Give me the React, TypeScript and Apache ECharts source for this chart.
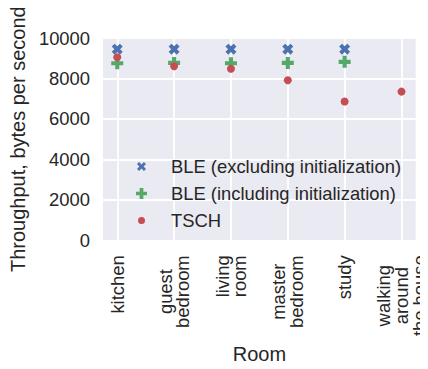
import React, { useEffect, useRef } from "react";
import * as echarts from "echarts";

const rooms = [
  "kitchen",
  "guest\nbedroom",
  "living\nroom",
  "master\nbedroom",
  "study",
  "walking\naround\nthe house",
];
const roomIndex = [0, 1, 2, 3, 4, 5];
const bleExcluding = [9450, 9450, 9450, 9450, 9450];
const bleIncluding = [8750, 8770, 8750, 8770, 8820];
const tsch = [9050, 8600, 8480, 7910, 6860, 7350];
const yTicks = [0, 2000, 4000, 6000, 8000, 10000];

const seriesNames = [
  "BLE (excluding initialization)",
  "BLE (including initialization)",
  "TSCH",
];
const colors = ["#4C72B0", "#55A868", "#C44E52"];

const X_PATH =
  "path://M2.6,0 L5,2.4 L7.4,0 L10,2.6 L7.6,5 L10,7.4 L7.4,10 L5,7.6 L2.6,10 L0,7.4 L2.4,5 L0,2.6 Z";
const PLUS_PATH =
  "path://M3.3,0 L6.7,0 L6.7,3.3 L10,3.3 L10,6.7 L6.7,6.7 L6.7,10 L3.3,10 L3.3,6.7 L0,6.7 L0,3.3 L3.3,3.3 Z";
const X_LEGEND =
  "path://M0,0 M11,11 M3.1,1 L5.5,3.4 L7.9,1 L10,3.1 L7.6,5.5 L10,7.9 L7.9,10 L5.5,7.6 L3.1,10 L1,7.9 L3.4,5.5 L1,3.1 Z";
const CIRCLE_LEGEND =
  "path://M0,0 M11,11 M2,5.5 A3.5,3.5 0 1 1 9,5.5 A3.5,3.5 0 1 1 2,5.5 Z";

const FONT = "'Liberation Sans', Arial, sans-serif";
const TXT = "#262626";

export default function App() {
  const ref = useRef<HTMLDivElement>(null);
  useEffect(() => {
    if (!ref.current) return;
    const chart = echarts.init(ref.current, null, { renderer: "svg" });
    const toPairs = (vals: number[]) => vals.map((v, i) => [roomIndex[i], v]);
    chart.setOption({
      animation: false,
      textStyle: { fontFamily: FONT, color: TXT },
      grid: {
        left: 101,
        right: 12,
        top: 38,
        bottom: 125,
        show: true,
        backgroundColor: "#EAEAF2",
        borderWidth: 0,
      },
      xAxis: {
        type: "value",
        min: -0.25,
        max: 5.25,
        name: "Room",
        nameLocation: "middle",
        nameGap: 101,
        nameTextStyle: { fontSize: 20, color: TXT, fontFamily: FONT },
        axisLine: { show: false },
        axisTick: { show: false, customValues: roomIndex },
        splitLine: { show: true, lineStyle: { color: "#ffffff", width: 1.8 } },
        axisLabel: {
          customValues: roomIndex,
          rotate: 90,
          margin: 15,
          formatter: (v: number) =>
            rooms[Math.round(v)]
              .split("\n")
              .map((s) => "{c|" + s + "}")
              .join("\n"),
          rich: {
            c: {
              align: "center",
              fontSize: 18.4,
              lineHeight: 17.6,
              color: TXT,
              fontFamily: FONT,
            },
          },
        },
      },
      yAxis: {
        type: "value",
        min: yTicks[0],
        max: yTicks[yTicks.length - 1],
        interval: 2000,
        name: "Throughput, bytes per second",
        nameLocation: "middle",
        nameGap: 64,
        nameTextStyle: { fontSize: 20, color: TXT, fontFamily: FONT },
        axisLine: { show: false },
        axisTick: { show: false },
        splitLine: { show: true, lineStyle: { color: "#ffffff", width: 1.8 } },
        axisLabel: {
          fontSize: 18.4,
          color: TXT,
          margin: 13,
          fontFamily: FONT,
          formatter: (v: number) => String(v),
        },
      },
      legend: {
        orient: "vertical",
        left: 131,
        top: 151,
        itemWidth: 11,
        itemHeight: 11,
        itemGap: 6,
        textStyle: {
          fontSize: 18.4,
          lineHeight: 21,
          color: TXT,
          fontFamily: FONT,
          padding: [0, 0, 0, 19],
        },
        data: [
          { name: seriesNames[0], icon: X_LEGEND },
          { name: seriesNames[1], icon: PLUS_PATH },
          { name: seriesNames[2], icon: CIRCLE_LEGEND },
        ],
      },
      series: [
        {
          name: seriesNames[0],
          type: "scatter",
          symbol: X_PATH,
          symbolSize: 11,
          itemStyle: { color: colors[0], opacity: 1 },
          data: toPairs(bleExcluding),
        },
        {
          name: seriesNames[1],
          type: "scatter",
          symbol: PLUS_PATH,
          symbolSize: 12,
          itemStyle: { color: colors[1], opacity: 1 },
          data: toPairs(bleIncluding),
        },
        {
          name: seriesNames[2],
          type: "scatter",
          symbol: "circle",
          symbolSize: 8,
          itemStyle: { color: colors[2], opacity: 1 },
          data: toPairs(tsch),
        },
      ],
    });
    return () => chart.dispose();
  }, []);
  return <div ref={ref} style={{ width: 428, height: 369, margin: -8 }} />;
}
